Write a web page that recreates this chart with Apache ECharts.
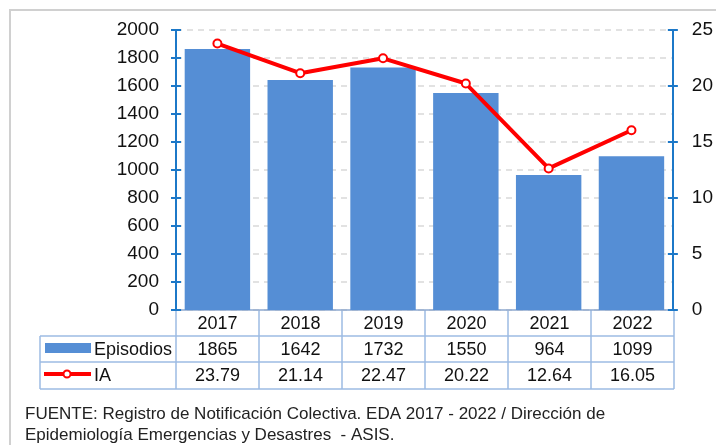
<!DOCTYPE html>
<html>
<head>
<meta charset="utf-8">
<script src="https://cdn.jsdelivr.net/npm/echarts@6/dist/echarts.min.js"></script>
<style>
  html, body { margin: 0; padding: 0; background: #fff; }
  #chart { width: 716px; height: 445px; }
</style>
</head>
<body>
<div id="chart"></div>
<script>
var years = ['2017', '2018', '2019', '2020', '2021', '2022'];
var episodios = [1865, 1642, 1732, 1550, 964, 1099];
var ia = [23.79, 21.14, 22.47, 20.22, 12.64, 16.05];
var seriesNames = ['Episodios', 'IA'];
var fuente = [
    'FUENTE: Registro de Notificación Colectiva. EDA 2017 - 2022 / Dirección de',
    'Epidemiología Emergencias y Desastres  - ASIS.'
];

var font = '"Liberation Sans", Arial, sans-serif';
var axisBlue = '#1c78c8';
var barBlue = '#558ed5';
var tableLine = '#9dbbe3';

// layout of plot area and table
var gLeft = 176, gRight = 674, gTop = 30, gBottom = 310;
var rows = [310, 336, 362, 389];
var legLeft = 40;
var colW = (gRight - gLeft) / years.length;

var chart = echarts.init(document.getElementById('chart'));

var graphics = [];
// outer frame
graphics.push({
    type: 'rect', shape: { x: 10, y: 10, width: 720, height: 450 },
    style: { fill: null, stroke: '#d0d0d0', lineWidth: 2 }, z: -1
});

// table grid lines
function hline(x1, x2, y) {
    graphics.push({ type: 'line', shape: { x1: x1, y1: y, x2: x2, y2: y }, style: { stroke: tableLine, lineWidth: 1.5 } });
}
function vline(x, y1, y2) {
    graphics.push({ type: 'line', shape: { x1: x, y1: y1, x2: x, y2: y2 }, style: { stroke: tableLine, lineWidth: 1.5 } });
}
hline(legLeft, gRight, rows[1]);
hline(legLeft, gRight, rows[2]);
hline(legLeft, gRight, rows[3]);
vline(legLeft, rows[1], rows[3]);
for (var c = 0; c <= years.length; c++) {
    vline(gLeft + c * colW, rows[0], rows[3]);
}

// table text
var tableRows = [years, episodios, ia.map(function (v) { return v.toFixed(2); })];
tableRows.forEach(function (vals, r) {
    vals.forEach(function (v, i) {
        graphics.push({
            type: 'text',
            x: gLeft + (i + 0.5) * colW,
            y: (rows[r] + rows[r + 1]) / 2 + 1,
            style: { text: String(v), font: '18px ' + font, fill: '#111', align: 'center', verticalAlign: 'middle' }
        });
    });
});

// legend cells
graphics.push({ type: 'rect', shape: { x: 45, y: 343, width: 46, height: 10 }, style: { fill: barBlue } });
graphics.push({
    type: 'text', x: 94, y: (rows[1] + rows[2]) / 2 + 1,
    style: { text: seriesNames[0], font: '18px ' + font, fill: '#111', verticalAlign: 'middle' }
});
graphics.push({ type: 'line', shape: { x1: 44, y1: 374, x2: 91, y2: 374 }, style: { stroke: '#ff0000', lineWidth: 4 } });
graphics.push({ type: 'circle', shape: { cx: 67, cy: 374, r: 3.5 }, style: { fill: '#fff', stroke: '#ff0000', lineWidth: 2 } });
graphics.push({
    type: 'text', x: 94, y: (rows[2] + rows[3]) / 2 + 1,
    style: { text: seriesNames[1], font: '18px ' + font, fill: '#111', verticalAlign: 'middle' }
});

// source note
fuente.forEach(function (t, i) {
    graphics.push({
        type: 'text', x: 25, y: 414 + i * 21,
        style: { text: t, font: '17px ' + font, fill: '#222', verticalAlign: 'middle' }
    });
});

var tickStyle = { color: axisBlue, width: 2 };

chart.setOption({
    animation: false,
    textStyle: { fontFamily: font },
    grid: { left: gLeft, right: 716 - gRight, top: gTop, bottom: 445 - gBottom },
    xAxis: {
        type: 'category',
        data: years,
        axisLine: { lineStyle: { color: '#8ea9cf', width: 1.5 } },
        axisTick: { show: false },
        axisLabel: { show: false }
    },
    yAxis: [{
        type: 'value', min: 0, max: 2000, interval: 200,
        axisLine: { show: true, lineStyle: { color: axisBlue, width: 2 } },
        axisTick: { show: true, length: 5, lineStyle: tickStyle },
        axisLabel: { fontSize: 19, color: '#111', margin: 17, formatter: function (v) { return String(v); } },
        splitLine: { lineStyle: { color: '#d9d9d9', type: [6, 5], width: 1.5 } }
    }, {
        type: 'value', min: 0, max: 25, interval: 5,
        axisLine: { show: true, lineStyle: { color: axisBlue, width: 2 } },
        axisTick: { show: true, length: 5, lineStyle: tickStyle },
        axisLabel: { fontSize: 19, color: '#111', margin: 19 },
        splitLine: { show: false }
    }, {
        // inner halves of the crossing ticks
        type: 'value', min: 0, max: 2000, interval: 200, position: 'left',
        axisLine: { show: false },
        axisTick: { show: true, inside: true, length: 5, lineStyle: tickStyle },
        axisLabel: { show: false },
        splitLine: { show: false }
    }, {
        type: 'value', min: 0, max: 25, interval: 5, position: 'right',
        axisLine: { show: false },
        axisTick: { show: true, inside: true, length: 5, lineStyle: tickStyle },
        axisLabel: { show: false },
        splitLine: { show: false }
    }],
    series: [{
        name: seriesNames[0],
        type: 'bar',
        data: episodios,
        barWidth: '79%',
        itemStyle: { color: barBlue },
        z: 2
    }, {
        name: seriesNames[1],
        type: 'line',
        yAxisIndex: 1,
        data: ia,
        symbol: 'circle',
        symbolSize: 8,
        lineStyle: { color: '#ff0000', width: 4 },
        itemStyle: { color: '#fff', borderColor: '#ff0000', borderWidth: 2 },
        z: 3
    }],
    graphic: graphics
});
</script>
</body>
</html>
